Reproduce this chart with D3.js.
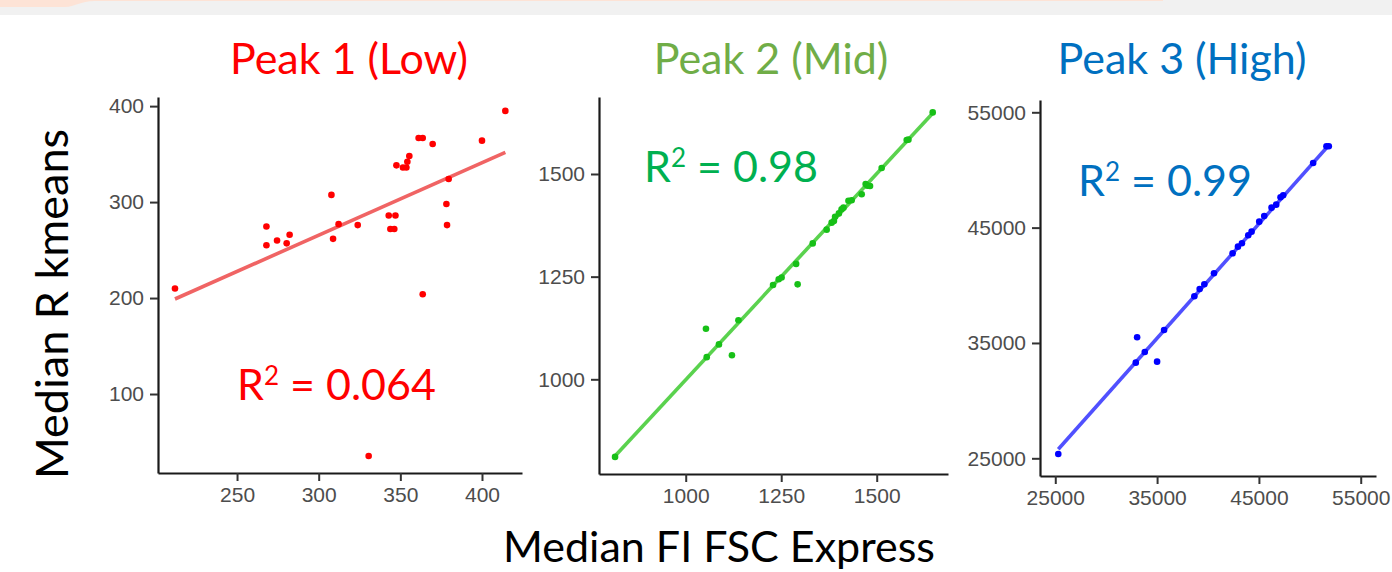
<!DOCTYPE html>
<html>
<head>
<meta charset="utf-8">
<script src="https://cdn.jsdelivr.net/npm/d3@7"></script>
<style>
  body { margin: 0; background: #fff; }
  svg { display: block; }
</style>
</head>
<body>
<div id="chart"></div>
<script>
'use strict';

// Peak 1 (Low)
var peak1X = [212, 268, 268, 274.5, 280.4, 282.2, 307.8, 308.8, 312.2, 323.9, 330.6, 342.9, 347, 343.9, 346.3,
              347.6, 351.6, 353.7, 354.3, 355.5, 361.2, 363.7, 363.7, 369.8, 378.2, 378.6, 379.6, 400, 414.3];
var peak1Y = [210, 274.5, 255, 260, 257, 266, 307.5, 261.7, 277, 276, 35.4, 286, 286, 272, 272,
              338.3, 336, 336, 342, 348, 366.7, 366.7, 204, 360.5, 298, 276, 324, 364, 395];
var fit1X = [212, 414.3];
var fit1Y = [199, 351.8];

// Peak 2 (Mid)
var peak2X = [815, 1053, 1055, 1087, 1121, 1138, 1228.6, 1243.5, 1251, 1289, 1293, 1332.5, 1369, 1382, 1388,
              1391, 1401, 1408, 1413, 1426, 1434.5, 1460.7, 1471, 1475.6, 1482.5, 1513, 1578.5, 1583, 1646.6];
var peak2Y = [811, 1123, 1054, 1085, 1058.5, 1144, 1229.7, 1243.5, 1248, 1281, 1231.3, 1331, 1364.5, 1381.5, 1385.6,
              1396, 1404, 1414, 1418, 1435, 1436, 1450.5, 1475.6, 1471.6, 1470.8, 1514.6, 1582.8, 1583.6, 1650];
var fit2X = [815, 1646.6];
var fit2Y = [813.3, 1647.7];

// Peak 3 (High)
var peak3X = [25294, 32908, 33039, 33791, 35000, 35686, 38660, 39183, 39641, 40588, 42418, 42941, 43333, 43954,
              44281, 45033, 45523, 46242, 46699, 47124, 47386, 50327, 51634, 51863];
var peak3Y = [25376, 33295, 35491, 34219, 33381, 36127, 39045, 39681, 40086, 41040, 42774, 43352, 43640, 44334,
              44652, 45519, 46010, 46733, 46993, 47629, 47802, 50605, 52050, 52050];
var fit3X = [25294, 51863];
var fit3Y = [25780, 52137];

// tick labels
var ticks1X = [250, 300, 350, 400];
var ticks1Y = [100, 200, 300, 400];
var ticks2 = [1000, 1250, 1500];
var ticks3 = [25000, 35000, 45000, 55000];

// axis limits
var lim1X = [201.6, 424.5], lim1Y = [17.7, 409.5];
var lim2X = [773, 1686.6], lim2Y = [769.4, 1687.5];
var lim3X = [23500, 56500], lim3Y = [23465, 56066];

var titles = ["Peak 1 (Low)", "Peak 2 (Mid)", "Peak 3 (High)"];
var r2Values = ["0.064", "0.98", "0.99"];

window.onload = function() {
    var W = 1392, H = 572;

    var svg = d3.select("#chart")
        .append("svg")
            .attr("width", W)
            .attr("height", H);

    // faint slide header strip at the top
    svg.append("rect")
        .attr("x", 0).attr("y", 0)
        .attr("width", W).attr("height", 15)
        .style("fill", "#f1f1f1");
    svg.append("path")
        .attr("d", "M0,0 H1163 V1 H95 C80,1 75,7 65,7 H0 Z")
        .style("fill", "#fde3d6");

    var panels = [
        {xs: peak1X, ys: peak1Y, fx: fit1X, fy: fit1Y, xd: lim1X, yd: lim1Y, xt: ticks1X, yt: ticks1Y,
         box: [158, 522, 97, 473], pt: "#ff0000", line: "#f06464", title: "#ff0000", r2c: "#ff0000",
         titleX: 349, r2: [237, 400]},
        {xs: peak2X, ys: peak2Y, fx: fit2X, fy: fit2Y, xd: lim2X, yd: lim2Y, xt: ticks2, yt: ticks2,
         box: [599, 948, 97, 474], pt: "#17c017", line: "#5ad24e", title: "#70ad47", r2c: "#00b050",
         titleX: 771, r2: [644, 182]},
        {xs: peak3X, ys: peak3Y, fx: fit3X, fy: fit3Y, xd: lim3X, yd: lim3Y, xt: ticks3, yt: ticks3,
         box: [1040, 1376, 100, 476], pt: "#0000ff", line: "#5050ff", title: "#0070c0", r2c: "#0070c0",
         titleX: 1182, r2: [1078, 196]}
    ];

    panels.forEach(function(p, i) {
        var x = d3.scaleLinear().domain(p.xd).range([p.box[0], p.box[1]]);
        var y = d3.scaleLinear().domain(p.yd).range([p.box[3], p.box[2]]);

        // axes
        var gx = svg.append("g")
            .attr("transform", "translate(0," + p.box[3] + ")")
            .call(d3.axisBottom(x).tickValues(p.xt).tickSize(8).tickSizeOuter(0).tickPadding(6)
                .tickFormat(d3.format("d")));
        var gy = svg.append("g")
            .attr("transform", "translate(" + p.box[0] + ",0)")
            .call(d3.axisLeft(y).tickValues(p.yt).tickSize(8).tickSizeOuter(0).tickPadding(6)
                .tickFormat(d3.format("d")));
        [gx, gy].forEach(function(g) {
            g.select(".domain").style("stroke", "#1a1a1a").style("stroke-width", 2.2);
            g.selectAll(".tick line").style("stroke", "#333").style("stroke-width", 2);
            g.selectAll(".tick text")
                .style("font-family", "'Liberation Sans', Arial, sans-serif")
                .style("font-size", "21px")
                .style("fill", "#4d4d4d");
        });

        // fit line
        var fitData = p.fx.map(function(v, k) { return [v, p.fy[k]]; });
        svg.append("path")
            .datum(fitData)
            .attr("d", d3.line().x(function(d) { return x(d[0]); }).y(function(d) { return y(d[1]); }))
            .style("fill", "none")
            .style("stroke", p.line)
            .style("stroke-width", 3.6);

        // points
        var pts = p.xs.map(function(v, k) { return [v, p.ys[k]]; });
        svg.append("g").selectAll("circle")
            .data(pts)
            .enter()
            .append("circle")
                .attr("cx", function(d) { return x(d[0]); })
                .attr("cy", function(d) { return y(d[1]); })
                .attr("r", 3.3)
                .style("fill", p.pt);

        // title
        svg.append("text")
            .attr("x", p.titleX)
            .attr("y", 74)
            .style("text-anchor", "middle")
            .style("font-family", "Lato, 'Open Sans', sans-serif")
            .style("font-size", "43px")
            .style("fill", p.title)
            .text(titles[i]);

        // R squared label
        var r2 = svg.append("text")
            .attr("x", p.r2[0])
            .attr("y", p.r2[1])
            .style("font-family", "Lato, 'Open Sans', sans-serif")
            .style("font-size", "43px")
            .style("fill", p.r2c);
        r2.append("tspan").text("R");
        r2.append("tspan").attr("dy", -15).style("font-size", "26px").text("2");
        r2.append("tspan").attr("dy", 15).text(" = " + r2Values[i]);
    });

    // shared axis titles
    svg.append("text")
        .attr("x", 719)
        .attr("y", 562)
        .style("text-anchor", "middle")
        .style("font-family", "Lato, 'Open Sans', sans-serif")
        .style("font-size", "43px")
        .style("fill", "#000")
        .text("Median FI FSC Express");

    svg.append("text")
        .attr("transform", "translate(68,304) rotate(-90)")
        .style("text-anchor", "middle")
        .style("font-family", "Lato, 'Open Sans', sans-serif")
        .style("font-size", "45px")
        .style("fill", "#000")
        .text("Median R kmeans");
};
</script>
</body>
</html>
